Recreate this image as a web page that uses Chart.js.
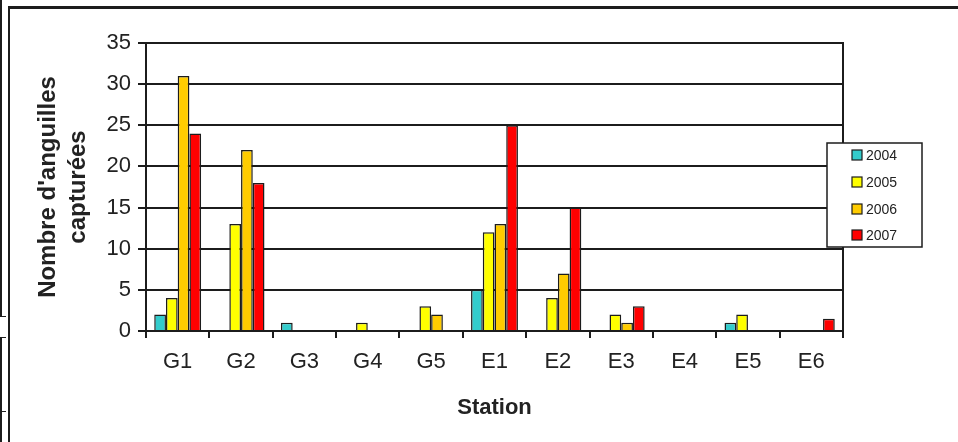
<!DOCTYPE html>
<html>
<head>
<meta charset="utf-8">
<script src="https://cdn.jsdelivr.net/npm/chart.js@4"></script>
<style>
  html, body { margin: 0; padding: 0; background: #fff; }
  #wrap { position: relative; width: 958px; height: 442px; overflow: hidden; }
  #c { position: absolute; left: 0; top: 0; }
  .rule { position: absolute; background: #1c1c1c; }
</style>
</head>
<body>
<div id="wrap">
  <!-- page frame rules -->
  <div class="rule" style="left:8px; top:6px; width:950px; height:3px;"></div>
  <div class="rule" style="left:8px; top:6px; width:2px; height:436px;"></div>
  <div class="rule" style="left:0px; top:0px; width:2px; height:317px;"></div>
  <div class="rule" style="left:0px; top:316px; width:6px; height:1px;"></div>
  <div class="rule" style="left:0px; top:337px; width:2px; height:105px;"></div>
  <div class="rule" style="left:0px; top:337px; width:6px; height:1px;"></div>
  <div class="rule" style="left:0px; top:411px; width:6px; height:1px;"></div>
  <canvas id="c" width="958" height="442"></canvas>
</div>
<script>
// Stations sampled and eels caught per year
const stations = ['G1', 'G2', 'G3', 'G4', 'G5', 'E1', 'E2', 'E3', 'E4', 'E5', 'E6'];
const years = ['2004', '2005', '2006', '2007'];
const catches2004 = [2, 0, 1, 0, 0, 5, 0, 0, 0, 1, 0];
const catches2005 = [4, 13, 0, 1, 3, 12, 4, 2, 0, 2, 0];
const catches2006 = [31, 22, 0, 0, 2, 13, 7, 1, 0, 0, 0];
const catches2007 = [24, 18, 0, 0, 0, 25, 15, 3, 0, 0, 1.5];
const yTicks = [0, 5, 10, 15, 20, 25, 30, 35];

const yearColors = ['#33CCCC', '#FFFF00', '#FFCC00', '#FF0000'];
const series = [catches2004, catches2005, catches2006, catches2007];
const ink = '#1c1c1c';
const face = '"Liberation Sans", Arial, sans-serif';

// Boxed legend inside the right margin
const boxLegend = {
  id: 'boxLegend',
  afterDraw(chart) {
    const ctx = chart.ctx;
    ctx.save();
    ctx.fillStyle = '#fff';
    ctx.fillRect(827, 143, 95, 104);
    ctx.strokeStyle = ink;
    ctx.lineWidth = 1.5;
    ctx.strokeRect(827, 143, 95, 104);
    ctx.font = '14px ' + face;
    ctx.textBaseline = 'middle';
    const rows = [155, 182, 209, 235];
    chart.data.datasets.forEach((ds, i) => {
      const y = rows[i];
      ctx.fillStyle = ds.backgroundColor;
      ctx.fillRect(852, y - 5, 10, 10);
      ctx.lineWidth = 1.2;
      ctx.strokeStyle = ink;
      ctx.strokeRect(852, y - 5, 10, 10);
      ctx.fillStyle = '#222';
      ctx.fillText(ds.label, 866, y + 1);
    });
    ctx.restore();
  }
};

// Right edge of the plot frame
const plotFrame = {
  id: 'plotFrame',
  afterDatasetsDraw(chart) {
    const a = chart.chartArea;
    const ctx = chart.ctx;
    ctx.save();
    ctx.strokeStyle = ink;
    ctx.lineWidth = 2;
    ctx.beginPath();
    ctx.moveTo(a.right, a.top - 1);
    ctx.lineTo(a.right, a.bottom + 7);
    ctx.stroke();
    ctx.restore();
  }
};

new Chart(document.getElementById('c'), {
  type: 'bar',
  data: {
    labels: stations,
    datasets: years.map((y, i) => ({
      label: y,
      data: series[i],
      backgroundColor: yearColors[i],
      borderColor: ink,
      borderWidth: 1.5,
      categoryPercentage: 0.74,
      barPercentage: 1.0
    }))
  },
  options: {
    responsive: false,
    animation: false,
    layout: { padding: { top: 43, right: 115, bottom: 0, left: 0 } },
    plugins: {
      legend: { display: false },
      tooltip: { enabled: false }
    },
    scales: {
      x: {
        afterFit(scale) { scale.height = 111; },
        grid: {
          offset: true,
          drawOnChartArea: false,
          drawTicks: true,
          tickLength: 7,
          color: ink,
          lineWidth: 2
        },
        border: { display: true, color: ink, width: 2 },
        ticks: {
          color: '#222',
          padding: 11,
          font: { family: face, size: 22 }
        },
        title: {
          display: true,
          text: 'Station',
          color: '#222',
          padding: { top: 0, bottom: 21 },
          font: { family: face, size: 22, weight: 'bold' }
        }
      },
      y: {
        min: 0,
        max: 35,
        afterFit(scale) { scale.width = 146; },
        afterBuildTicks(scale) { scale.ticks = yTicks.map(v => ({ value: v })); },
        grid: {
          drawTicks: true,
          tickLength: 8,
          color: ink,
          lineWidth: 2
        },
        border: { display: true, color: ink, width: 2 },
        ticks: {
          color: '#222',
          padding: 7,
          font: { family: face, size: 22 }
        },
        title: {
          display: true,
          text: ["Nombre d'anguilles", 'capturées'],
          color: '#222',
          padding: { top: 33, bottom: 0 },
          font: { family: face, size: 24, weight: 'bold', lineHeight: 1.25 }
        }
      }
    }
  },
  plugins: [plotFrame, boxLegend]
});
</script>
</body>
</html>
